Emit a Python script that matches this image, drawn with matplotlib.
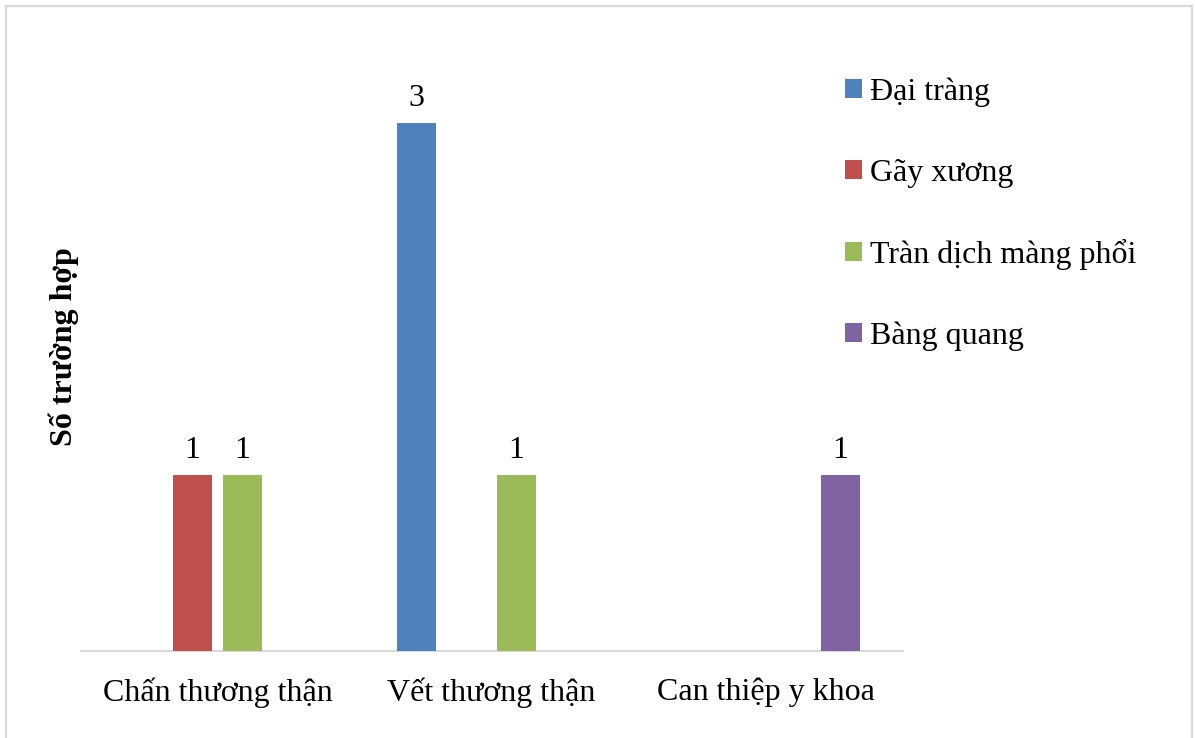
import numpy as np
import matplotlib.pyplot as plt
from matplotlib.patches import Rectangle

plt.rcParams['font.family'] = ['Liberation Serif', 'DejaVu Serif']

categories = ["Chấn thương thận", "Vết thương thận", "Can thiệp y khoa"]
series_names = ["Đại tràng", "Gãy xương", "Tràn dịch màng phổi", "Bàng quang"]
# counts per category, 0 = no case (no bar, no label)
dai_trang = [0, 3, 0]
gay_xuong = [1, 0, 0]
tran_dich = [1, 1, 0]
bang_quang = [0, 0, 1]
series_values = [dai_trang, gay_xuong, tran_dich, bang_quang]
colors = ['#4f81bd', '#c0504d', '#9bbb59', '#8064a2']

FS = 23

fig = plt.figure(figsize=(11.95, 7.38), dpi=100)
ax = fig.add_axes([0.0674, 0.1179, 0.6879, 0.8347])

x = np.arange(len(categories))
step = 0.1825
width = 0.144
handles = []
for i, (name, vals, col) in enumerate(zip(series_names, series_values, colors)):
    pos = x + (i - 1.5) * step
    vals = np.array(vals, dtype=float)
    bars = ax.bar(pos, vals, width=width, color=col, label=name, zorder=3)
    handles.append(bars)
    for xp, v in zip(pos, vals):
        if v > 0:
            ax.text(xp, v + 0.14, f"{int(v)}", ha='center', va='center',
                    fontsize=FS, color='black')

ax.set_xlim(-0.5, 2.5)
ax.set_ylim(0, 3.5)
ax.set_xticks(x)
ax.set_xticklabels(categories, fontsize=FS)
ax.tick_params(axis='x', length=0, pad=19)
ax.set_yticks([])
for side in ['top', 'right', 'left']:
    ax.spines[side].set_visible(False)
ax.spines['bottom'].set_color('#d9d9d9')
ax.spines['bottom'].set_linewidth(1.5)

fig.text(0.0536, 0.531, "Số trường hợp", rotation=90, ha='center', va='center',
         fontsize=FS, fontweight='bold')

leg = fig.legend(handles=handles, labels=series_names, loc='upper left',
                 bbox_to_anchor=(0.6966, 0.912), frameon=False, fontsize=FS,
                 handlelength=0.53, handleheight=0.53, handletextpad=0.25,
                 labelspacing=1.61, borderaxespad=0)

# light grey frame around the chart area (open at the bottom)
fig.patches.append(Rectangle((0.0054, -0.05), 0.9921, 0.9912 + 0.05,
                             transform=fig.transFigure, fill=False,
                             edgecolor='#d9d9d9', linewidth=1.6))

fig.savefig("out.png", dpi=100)
